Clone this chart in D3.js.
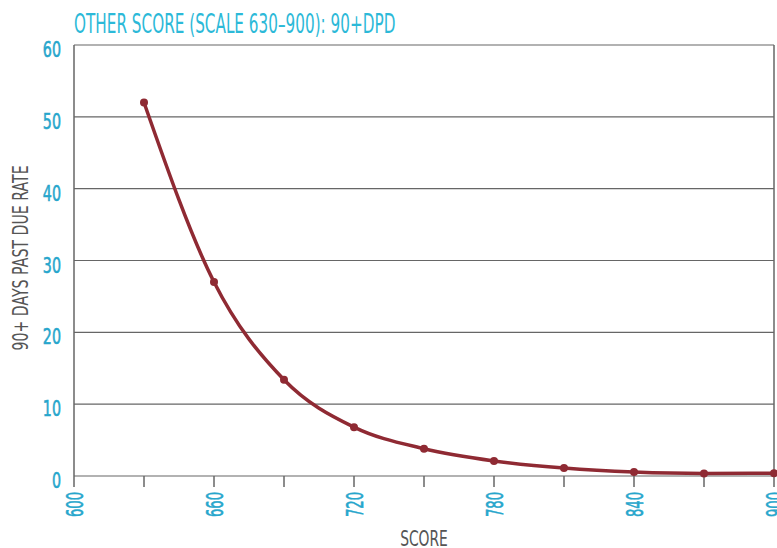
<!DOCTYPE html>
<html>
<head>
<meta charset="utf-8">
<script src="https://cdn.jsdelivr.net/npm/d3@7"></script>
<style>
  body { margin: 0; background: #fff; }
  svg text { font-family: "DejaVu Sans", sans-serif; }
</style>
</head>
<body>
<svg width="777" height="548"></svg>
<script>
// data
var scores = [630, 660, 690, 720, 750, 780, 810, 840, 870, 900];
var rates = [52, 27, 13.4, 6.8, 3.8, 2.1, 1.1, 0.55, 0.35, 0.4];
var xTicks = [600, 630, 660, 690, 720, 750, 780, 810, 840, 870, 900];
var xLabels = [600, 660, 720, 780, 840, 900];
var yTicks = [0, 10, 20, 30, 40, 50, 60];

var svg = d3.select('svg');
var blue = '#27a6cc';
var red = '#8f2a33';

var x = d3.scaleLinear().domain([600, 900]).range([74, 774]);
var y = d3.scaleLinear().domain([0, 60]).range([476, 45]);

// title (font squeezed sideways to look condensed)
svg.append('text')
    .attr('transform', 'translate(74,33) scale(0.565,1)')
    .style('font-size', '27px')
    .style('fill', '#2cb9d8')
    .text('OTHER SCORE (SCALE 630\u2013900): 90+DPD');

// gridlines
svg.append('g').selectAll('line')
    .data(yTicks)
    .enter().append('line')
    .attr('x1', x(600)).attr('x2', x(900))
    .attr('y1', function(d) { return y(d); })
    .attr('y2', function(d) { return y(d); })
    .style('stroke', '#666')
    .style('stroke-width', 1.2);

// frame sides
svg.append('line')
    .attr('x1', x(600)).attr('x2', x(600))
    .attr('y1', y(60)).attr('y2', y(0))
    .style('stroke', '#666').style('stroke-width', 1.5);
svg.append('line')
    .attr('x1', x(900)).attr('x2', x(900))
    .attr('y1', y(60)).attr('y2', y(0))
    .style('stroke', '#666').style('stroke-width', 1.5);

// x ticks
svg.append('g').selectAll('line')
    .data(xTicks)
    .enter().append('line')
    .attr('x1', function(d) { return x(d); })
    .attr('x2', function(d) { return x(d); })
    .attr('y1', y(0)).attr('y2', y(0) + 11)
    .style('stroke', '#666')
    .style('stroke-width', 1.5);

// x tick labels (rotated)
svg.append('g').selectAll('text')
    .data(xLabels)
    .enter().append('text')
    .attr('transform', function(d) { return 'translate(' + (x(d) + 8.5) + ',492) rotate(-90) scale(0.57,1)'; })
    .attr('text-anchor', 'end')
    .style('font-size', '23px')
    .style('fill', blue)
    .style('stroke', blue)
    .style('stroke-width', 0.6)
    .text(function(d) { return d; });

// y tick labels
svg.append('g').selectAll('text')
    .data(yTicks)
    .enter().append('text')
    .attr('transform', function(d) { return 'translate(61,' + (y(d) + 12) + ') scale(0.65,1)'; })
    .attr('text-anchor', 'end')
    .style('font-size', '22px')
    .style('fill', blue)
    .style('stroke', blue)
    .style('stroke-width', 0.6)
    .text(function(d) { return d; });

// axis titles
svg.append('text')
    .attr('transform', 'translate(28,258) rotate(-90) scale(0.69,1)')
    .attr('text-anchor', 'middle')
    .style('font-size', '20.5px')
    .style('fill', '#555')
    .text('90+ DAYS PAST DUE RATE');

svg.append('text')
    .attr('transform', 'translate(424,546) scale(0.66,1)')
    .attr('text-anchor', 'middle')
    .style('font-size', '21px')
    .style('fill', '#555')
    .text('SCORE');

// curve
var points = scores.map(function(s, i) { return [s, rates[i]]; });
var line = d3.line()
    .x(function(d) { return x(d[0]); })
    .y(function(d) { return y(d[1]); })
    .curve(d3.curveMonotoneX);

svg.append('path')
    .datum(points)
    .attr('d', line)
    .style('fill', 'none')
    .style('stroke', red)
    .style('stroke-width', 3.5);

svg.append('g').selectAll('circle')
    .data(points)
    .enter().append('circle')
    .attr('cx', function(d) { return x(d[0]); })
    .attr('cy', function(d) { return y(d[1]); })
    .attr('r', 4)
    .style('fill', red);
</script>
</body>
</html>
